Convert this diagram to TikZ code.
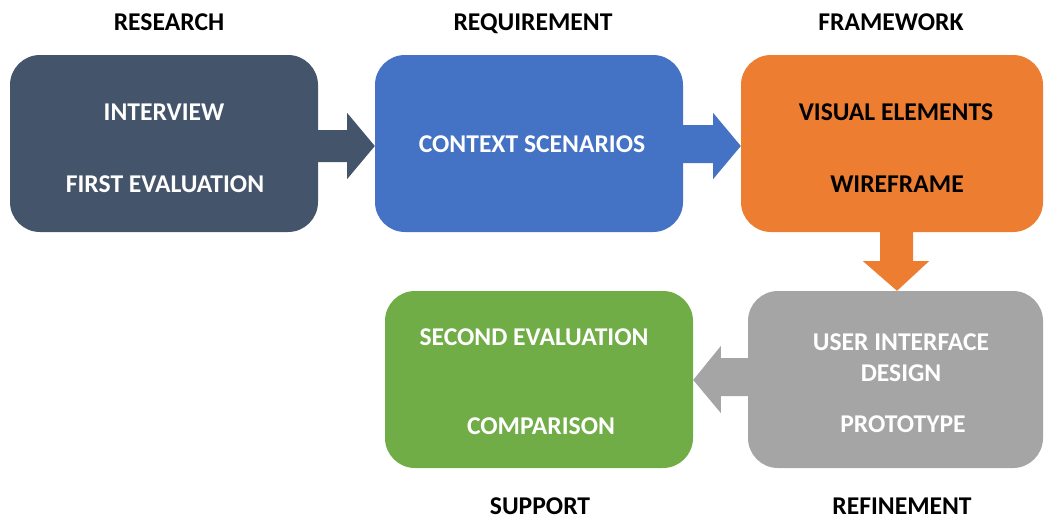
\documentclass[tikz,border=0pt]{standalone}
\usepackage{fontspec}
\setmainfont{Carlito}
\usetikzlibrary{calc}

\definecolor{slate}{HTML}{44546A}
\definecolor{office blue}{HTML}{4472C4}
\definecolor{office orange}{HTML}{ED7D31}
\definecolor{office gray}{HTML}{A5A5A5}
\definecolor{office green}{HTML}{70AD47}

\tikzset{
  stage/.style={rectangle, rounded corners=30pt, inner sep=0pt, minimum height=177pt},
  title/.style={anchor=base, inner sep=0pt, text depth=0pt, font=\fontsize{25.6}{31}\selectfont\bfseries},
  inside/.style={title, text=white},
}

\begin{document}
\begin{tikzpicture}[x=1pt,y=-1pt]
  \useasboundingbox (0,0) rectangle (1044,517);

  % the five stages
  \node[stage, fill=slate, minimum width=308pt] (research) at (164,143.5) {};
  \node[stage, fill=office blue, minimum width=308pt] (requirement) at (529,143.5) {};
  \node[stage, fill=office orange, minimum width=302pt] (framework) at (892,143.5) {};
  \node[stage, fill=office green, minimum width=308pt] (support) at (539,379.5) {};
  \node[stage, fill=office gray, minimum width=295pt] (refinement) at (895.5,379.5) {};

  % headings
  \node[title] (researchT) at (169,30) {RESEARCH};
  \node[title] (requirementT) at (533,30) {REQUIREMENT};
  \node[title] (frameworkT) at (891,30) {FRAMEWORK};
  \node[title] (supportT) at (540,514) {SUPPORT};
  \node[title] (refinementT) at (902,514) {REFINEMENT};

  % what each stage holds
  \node[inside] (interview) at (164,120) {INTERVIEW};
  \node[inside] (firsteval) at (165,192) {FIRST EVALUATION};
  \node[inside] (context) at (532,152) {CONTEXT SCENARIOS};
  \node[title] (visual) at (896,120) {VISUAL ELEMENTS};
  \node[title] (wireframe) at (897,192) {WIREFRAME};
  \node[inside] (secondeval) at (534,345) {SECOND EVALUATION};
  \node[inside] (comparison) at (541,434) {COMPARISON};
  \node[inside, anchor=center, align=center, text depth=] (uidesign) at (901,358) {USER INTERFACE\\DESIGN};
  \node[inside] (prototype) at (903,432) {PROTOTYPE};

  % block arrows between stages
  \fill[slate] ($(research.east)+(0,-13.5)$) -- ++(29,0) -- ++(0,-17)
    -- ($(requirement.west)+(0,2.5)$) -- ($(research.east)+(29,35.5)$)
    -- ++(0,-17) -- ($(research.east)+(0,18.5)$) -- cycle;
  \fill[office blue] ($(requirement.east)+(0,-18.5)$) -- ++(30,0) -- ++(0,-12)
    -- ($(framework.west)+(0,2.5)$) -- ($(requirement.east)+(30,35.5)$)
    -- ++(0,-16) -- ($(requirement.east)+(0,19.5)$) -- cycle;
  \fill[office orange] ($(framework.south)+(-12,0)$) -- ++(0,29) -- ++(-17,0)
    -- ($(refinement.north)+(1.5,0)$) -- ($(framework.south)+(37,29)$)
    -- ++(-16,0) -- ($(framework.south)+(21,0)$) -- cycle;
  \fill[office gray] ($(refinement.west)+(0,-21.5)$) -- ++(-27,0) -- ++(0,-12)
    -- ($(support.east)+(0,0.5)$) -- ($(refinement.west)+(-27,33.5)$)
    -- ++(0,-17) -- ($(refinement.west)+(0,16.5)$) -- cycle;
\end{tikzpicture}
\end{document}
